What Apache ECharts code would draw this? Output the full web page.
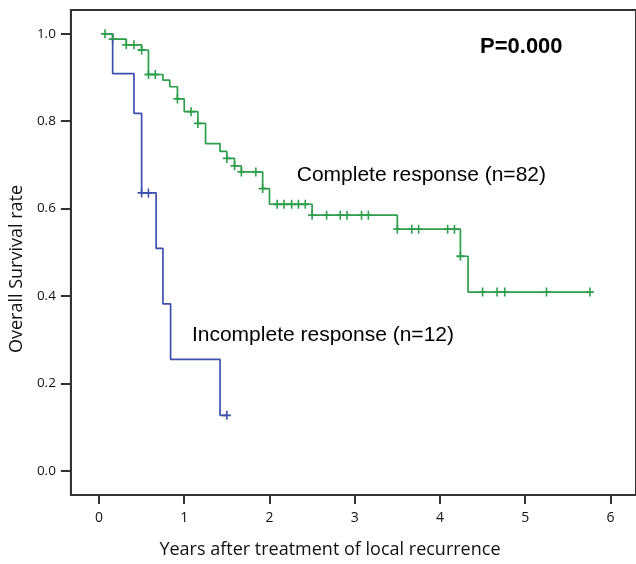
<!DOCTYPE html>
<html>
<head>
    <meta charset="utf-8">
    <title>Overall survival after treatment of local recurrence</title>
    <script src="https://cdn.jsdelivr.net/npm/echarts@6/dist/echarts.min.js"></script>
    <style type="text/css">
        html, body {
            margin: 0;
            padding: 0;
            background: #fff;
        }

        #km-chart {
            width: 636px;
            height: 564px;
        }
    </style>
</head>
<body>
    <div id="km-chart"></div>
    <script>
        // axis ticks
        var xTicks = [0, 1, 2, 3, 4, 5, 6];
        var yTicks = [0, 0.2, 0.4, 0.6, 0.8, 1.0];

        // Complete response (n=82): step times / survival after each step
        var crTime = [0.07, 0.16, 0.32, 0.50, 0.58, 0.75, 0.83, 0.92, 1.00, 1.16, 1.25, 1.42, 1.50, 1.59, 1.67, 1.92, 2.00, 2.50, 3.50, 4.24, 4.33, 5.76];
        var crSurv = [1.000, 0.988, 0.975, 0.963, 0.907, 0.894, 0.879, 0.851, 0.822, 0.795, 0.749, 0.731, 0.715, 0.698, 0.684, 0.646, 0.610, 0.585, 0.553, 0.491, 0.409, 0.409];
        var crCensored = [0.07, 0.16, 0.32, 0.41, 0.50, 0.58, 0.66, 0.92, 1.08, 1.16, 1.50, 1.59, 1.67, 1.84, 1.92, 2.09, 2.17, 2.26, 2.34, 2.42, 2.50, 2.67, 2.83, 2.91, 3.08, 3.16, 3.50, 3.67, 3.75, 4.09, 4.17, 4.24, 4.50, 4.67, 4.76, 5.25, 5.76];

        // Incomplete response (n=12)
        var irTime = [0.07, 0.16, 0.41, 0.50, 0.67, 0.75, 0.84, 1.42, 1.50];
        var irSurv = [1.000, 0.909, 0.818, 0.636, 0.509, 0.382, 0.255, 0.127, 0.127];
        var irCensored = [0.50, 0.58, 1.50];

        // annotations (text, x in years, y in survival)
        var noteText = ['P=0.000', 'Complete response (n=82)', 'Incomplete response (n=12)'];
        var noteX = [4.47, 2.32, 1.09];
        var noteY = [0.970, 0.676, 0.310];

        var green = '#2f9e4c';
        var blue = '#3e4fae';
        var plus = 'path://M-0.2,-1H0.2V-0.2H1V0.2H0.2V1H-0.2V0.2H-1V-0.2H-0.2Z';

        function stepLine(times, surv) {
            var arr = [];
            for (var i = 0; i < times.length; i++) {
                arr.push([times[i], surv[i]]);
            }
            return arr;
        }

        // survival level of the curve at time t
        function survAt(times, surv, t) {
            var s = surv[0];
            for (var i = 0; i < times.length; i++) {
                if (times[i] <= t + 1e-9) s = surv[i];
            }
            return s;
        }

        function censorMarks(cens, times, surv) {
            return cens.map(function (t) { return [t, survAt(times, surv, t)]; });
        }

        var labelFont = 'Open Sans';
        var chart = echarts.init(document.getElementById('km-chart'));
        var option = {
            animation: false,
            grid: {
                left: 68,
                top: 10,
                right: -2,
                bottom: 67,
                show: true,
                borderColor: '#333',
                borderWidth: 2
            },
            xAxis: {
                type: 'value',
                min: -0.33,
                max: 6.30,
                name: 'Years after treatment of local recurrence',
                nameLocation: 'middle',
                nameGap: 46,
                nameTextStyle: {
                    fontFamily: labelFont,
                    fontSize: 18,
                    color: '#111',
                    padding: [0, 47, 0, 0]
                },
                splitLine: { show: false },
                axisLine: { onZero: false, lineStyle: { color: '#333', width: 2 } },
                axisTick: { customValues: xTicks, length: 9, lineStyle: { color: '#333', width: 2 } },
                axisLabel: {
                    customValues: xTicks,
                    margin: 16,
                    fontFamily: labelFont,
                    fontSize: 14,
                    color: '#111'
                }
            },
            yAxis: {
                type: 'value',
                min: -0.0554,
                max: 1.0546,
                name: 'Overall Survival rate',
                nameLocation: 'middle',
                nameGap: 35,
                nameTextStyle: {
                    fontFamily: labelFont,
                    fontSize: 18,
                    color: '#111',
                    padding: [0, 33, 0, 0]
                },
                splitLine: { show: false },
                axisLine: { onZero: false, lineStyle: { color: '#333', width: 2 } },
                axisTick: { customValues: yTicks, length: 10, lineStyle: { color: '#333', width: 2 } },
                axisLabel: {
                    customValues: yTicks,
                    margin: 15,
                    fontFamily: labelFont,
                    fontSize: 13.5,
                    color: '#111',
                    formatter: function (v) { return v.toFixed(1); }
                }
            },
            series: [
                {
                    name: 'Incomplete response',
                    type: 'line',
                    step: 'end',
                    symbol: 'none',
                    lineStyle: { color: blue, width: 1.7 },
                    data: stepLine(irTime, irSurv)
                },
                {
                    name: 'Incomplete response censored',
                    type: 'scatter',
                    symbol: plus,
                    symbolSize: [8, 9],
                    itemStyle: { color: blue, opacity: 1 },
                    data: censorMarks(irCensored, irTime, irSurv)
                },
                {
                    name: 'Complete response',
                    type: 'line',
                    step: 'end',
                    symbol: 'none',
                    lineStyle: { color: green, width: 1.7 },
                    data: stepLine(crTime, crSurv)
                },
                {
                    name: 'Complete response censored',
                    type: 'scatter',
                    symbol: plus,
                    symbolSize: [8, 9],
                    itemStyle: { color: green, opacity: 1 },
                    data: censorMarks(crCensored, crTime, crSurv)
                },
                {
                    name: 'notes',
                    type: 'scatter',
                    symbolSize: 0,
                    silent: true,
                    itemStyle: { opacity: 1 },
                    label: {
                        show: true,
                        position: 'right',
                        distance: 0,
                        fontFamily: 'Liberation Sans',
                        fontSize: 21,
                        color: '#000',
                        opacity: 1,
                        formatter: function (p) { return p.name; }
                    },
                    data: noteText.map(function (t, i) {
                        var item = { name: t, value: [noteX[i], noteY[i]] };
                        if (i === 0) {
                            item.label = { fontWeight: 'bold', fontSize: 22, color: '#000' };
                        }
                        return item;
                    })
                }
            ]
        };
        chart.setOption(option);
    </script>
</body>
</html>
